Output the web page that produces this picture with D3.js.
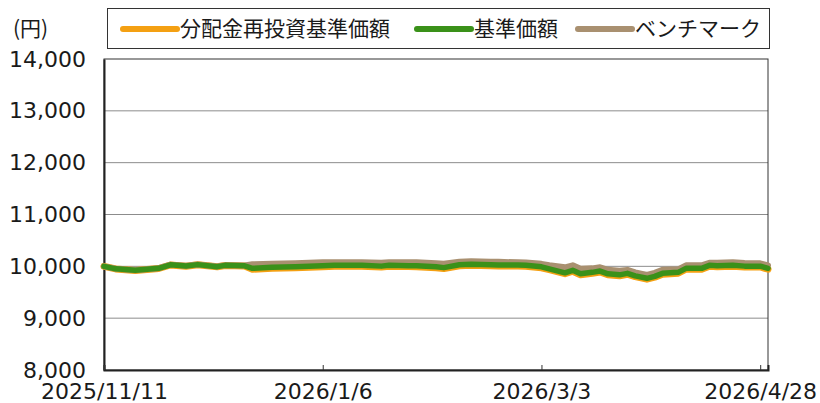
<!DOCTYPE html>
<html>
<head>
<meta charset="utf-8">
<script src="https://cdn.jsdelivr.net/npm/d3@7"></script>
<style>
  body { margin: 0; background: #fff; }
  svg text { font-family: "DejaVu Sans", sans-serif; fill: #1a1a1a; }
  svg .cjk { font-family: "Noto Sans CJK JP", sans-serif; }
</style>
</head>
<body>
<div id="chart"></div>
<script>
var dates = ["2025-11-11", "2025-11-14", "2025-11-19", "2025-11-25", "2025-11-28", "2025-12-02",
  "2025-12-05", "2025-12-10", "2025-12-12", "2025-12-17", "2025-12-19", "2025-12-24", "2025-12-30",
  "2026-01-06", "2026-01-09", "2026-01-14", "2026-01-16", "2026-01-21", "2026-01-23", "2026-01-28",
  "2026-01-30", "2026-02-04", "2026-02-06", "2026-02-10", "2026-02-13", "2026-02-18", "2026-02-20",
  "2026-02-25", "2026-02-27", "2026-03-03", "2026-03-05", "2026-03-09", "2026-03-11", "2026-03-13",
  "2026-03-16", "2026-03-18", "2026-03-20", "2026-03-23", "2026-03-25", "2026-03-27", "2026-03-30",
  "2026-04-01", "2026-04-03", "2026-04-07", "2026-04-09", "2026-04-13", "2026-04-15", "2026-04-17",
  "2026-04-21", "2026-04-24", "2026-04-28", "2026-04-30"];

var nav = [10000, 9952, 9923, 9961, 10029, 10006, 10033, 9994, 10019, 10010, 9961, 9981, 9990,
  10010, 10019, 10019, 10019, 10004, 10019, 10013, 10010, 9990, 9975, 10029, 10039, 10029, 10025,
  10025, 10019, 9990, 9952, 9875, 9923, 9856, 9884, 9909, 9856, 9836, 9865, 9817, 9769,
  9807, 9865, 9884, 9961, 9961, 10019, 10010, 10019, 10004, 10004, 9961];

var navReinvested = [10000, 9950, 9920, 9958, 10026, 10003, 10030, 9991, 10016, 10006, 9944, 9964, 9973,
  9993, 10002, 10002, 10002, 9987, 10002, 9996, 9993, 9973, 9958, 10012, 10022, 10012, 10008,
  10008, 10002, 9973, 9935, 9858, 9906, 9839, 9867, 9892, 9839, 9819, 9848, 9800, 9752,
  9790, 9848, 9867, 9944, 9944, 10002, 9993, 10002, 9987, 9987, 9944];

var benchmark = [10000, 9954, 9926, 9965, 10033, 10010, 10037, 9998, 10023, 10016, 10039, 10048, 10058,
  10077, 10077, 10081, 10077, 10068, 10081, 10077, 10077, 10058, 10048, 10087, 10096, 10087, 10087,
  10077, 10073, 10048, 10023, 9981, 10019, 9952, 9961, 9981, 9932, 9913, 9932, 9884, 9836,
  9875, 9932, 9942, 10019, 10019, 10068, 10068, 10077, 10064, 10058, 10019];

var yTicks = [8000, 9000, 10000, 11000, 12000, 13000, 14000];
var xTickDates = ["2025-11-11", "2026-01-06", "2026-03-03", "2026-04-28"];
var xEnd = "2026-04-30";

var seriesNames = ["分配金再投資基準価額", "基準価額", "ベンチマーク"];
var seriesColors = ["#f4a012", "#3a9119", "#a99070"];

var width = 820, height = 403;
var margin = { top: 59, right: 52, bottom: 33, left: 104 };
var chartWidth = width - margin.left - margin.right;
var chartHeight = height - margin.top - margin.bottom;

var parse = d3.timeParse("%Y-%m-%d");
var fmt = d => d.getFullYear() + "/" + (d.getMonth() + 1) + "/" + d.getDate();

var svg = d3.select("#chart").append("svg")
  .attr("width", width)
  .attr("height", height);

var g = svg.append("g")
  .attr("transform", `translate(${margin.left}, ${margin.top})`);

var xScale = d3.scaleTime()
  .domain([parse(dates[0]), parse(xEnd)])
  .range([0, chartWidth]);

var yScale = d3.scaleLinear()
  .domain([8000, 14000])
  .range([chartHeight, 0]);

// grid
g.append("g")
  .selectAll("line")
  .data(yTicks.slice(1, -1))
  .enter()
  .append("line")
  .attr("x1", 0)
  .attr("x2", chartWidth)
  .attr("y1", d => yScale(d))
  .attr("y2", d => yScale(d))
  .attr("stroke", "#8c8c8c")
  .attr("stroke-width", 1);

// frame
g.append("rect")
  .attr("width", chartWidth)
  .attr("height", chartHeight)
  .attr("fill", "none")
  .attr("stroke", "#333")
  .attr("stroke-width", 1);

var yAxis = d3.axisLeft(yScale)
  .tickValues(yTicks)
  .tickSize(0)
  .tickPadding(18)
  .tickFormat(d3.format(","));

g.append("g")
  .attr("class", "y axis")
  .call(yAxis)
  .call(a => a.select(".domain").attr("stroke", "#222").attr("stroke-width", 2))
  .selectAll("text")
  .style("font-size", "22px")
  .style("font-family", "DejaVu Sans");

var xAxis = d3.axisBottom(xScale)
  .tickValues(xTickDates.map(parse))
  .tickSize(-5)
  .tickPadding(13)
  .tickFormat(fmt);

g.append("g")
  .attr("class", "x axis")
  .attr("transform", `translate(0, ${chartHeight})`)
  .call(xAxis)
  .call(a => a.select(".domain").attr("stroke", "#222").attr("stroke-width", 2))
  .call(a => a.selectAll(".tick line").attr("stroke", "#333"))
  .selectAll("text")
  .style("font-size", "22px")
  .style("font-family", "DejaVu Sans");

var points = dates.map((d, i) => ({
  date: parse(d),
  values: [navReinvested[i], nav[i], benchmark[i]]
}));

var drawOrder = [{ i: 0, w: 7 }, { i: 2, w: 6 }, { i: 1, w: 5.5 }];

var lines = g.append("g").attr("class", "lines");
drawOrder.forEach(s => {
  var line = d3.line()
    .x(d => xScale(d.date))
    .y(d => yScale(d.values[s.i]));
  lines.append("path")
    .datum(points)
    .attr("fill", "none")
    .attr("stroke", seriesColors[s.i])
    .attr("stroke-width", s.w)
    .attr("stroke-linejoin", "round")
    .attr("stroke-linecap", "round")
    .attr("d", line);
});

// unit label
svg.append("text")
  .attr("class", "cjk")
  .attr("x", 13)
  .attr("y", 36)
  .style("font-size", "21px")
  .text("(円)");

// legend
var legend = svg.append("g").attr("class", "legend");
legend.append("rect")
  .attr("x", 107.5)
  .attr("y", 8.5)
  .attr("width", 662)
  .attr("height", 40)
  .attr("fill", "#fff")
  .attr("stroke", "#333");

var legendX = [123, 417, 578];
seriesNames.forEach((name, i) => {
  var item = legend.append("g").attr("transform", `translate(${legendX[i]}, 29)`);
  item.append("line")
    .attr("x1", 0)
    .attr("x2", 54)
    .attr("stroke", seriesColors[i])
    .attr("stroke-width", 6)
    .attr("stroke-linecap", "round");
  item.append("text")
    .attr("class", "cjk")
    .attr("x", 57)
    .attr("dy", "0.35em")
    .style("font-size", "21px")
    .text(name);
});
</script>
</body>
</html>
